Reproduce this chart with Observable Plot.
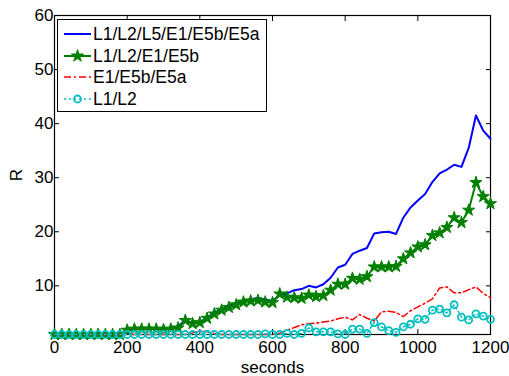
<!DOCTYPE html>
<html>
<head>
<meta charset="utf-8">
<script src="https://cdn.jsdelivr.net/npm/d3@7"></script>
<script src="https://cdn.jsdelivr.net/npm/@observablehq/plot@0.6"></script>
<style>
  html, body { margin: 0; padding: 0; background: #fff; }
  #wrap { position: relative; width: 509px; height: 376px; font-family: "Liberation Sans", Arial, sans-serif; }
  #legend { position: absolute; left: 57px; top: 19px; width: 210px; height: 93px; box-sizing: border-box;
    border: 1px solid #000; background: #fff; font-size: 17.5px; color: #000; }
  #legend .row { position: absolute; left: 4px; height: 20px; display: flex; align-items: center; }
  #legend svg { width: 30px; height: 16px; margin-right: 1px; }
</style>
</head>
<body>
<div id="wrap"></div>
<script>
const seconds = [0,20,40,60,80,100,120,140,160,180,200,220,240,260,280,300,320,340,360,380,400,420,440,460,480,500,520,540,560,580,600,620,640,660,680,700,720,740,760,780,800,820,840,860,880,900,920,940,960,980,1000,1020,1040,1060,1080,1100,1120,1140,1160,1180,1200];

const seriesNames = ["L1/L2/L5/E1/E5b/E5a", "L1/L2/E1/E5b", "E1/E5b/E5a", "L1/L2"];

const rAll = [1.0,1.0,1.0,1.0,1.0,1.0,1.0,1.0,1.0,1.0,
  1.8,2.0,2.0,2.0,2.2,2.0,2.0,2.5,3.7,3.1,
  3.3,4.1,5.0,5.7,6.3,6.8,7.3,7.5,7.8,7.5,
  7.2,8.3,8.6,9.2,9.4,10.0,9.7,10.3,11.5,13.4,
  13.9,15.9,16.5,17.0,19.7,19.9,20.0,19.6,22.6,24.5,
  25.8,27.0,29.2,30.8,31.5,32.4,32.0,35.5,41.5,38.7,37.2];

const rL1L2E1E5b = [1.0,1.0,1.0,1.0,1.0,1.0,1.0,1.0,1.0,1.0,
  1.8,2.0,2.0,2.0,2.0,1.9,2.0,2.2,3.6,3.0,
  3.2,4.0,4.8,5.5,6.0,6.5,7.0,7.2,7.3,7.0,
  6.9,8.5,7.9,7.8,7.7,8.3,8.0,8.2,9.2,10.3,
  10.3,11.4,11.2,11.7,13.5,13.5,13.5,13.6,15.0,16.1,
  17.2,17.6,19.3,19.8,20.8,22.6,21.7,24.0,29.1,26.5,25.2];

const rE1E5bE5a = [1.0,1.0,1.0,1.0,1.0,1.0,1.0,1.0,1.0,1.0,
  1.0,1.0,1.0,1.0,1.0,1.0,1.0,1.0,1.0,1.3,
  1.7,1.5,1.2,1.0,1.0,1.0,1.0,1.0,1.0,1.0,
  1.0,1.2,1.8,2.3,2.8,3.0,3.1,3.3,3.5,3.9,
  4.2,3.7,4.7,4.0,3.5,5.2,5.3,5.1,4.3,5.4,
  6.1,6.8,7.6,9.6,9.8,8.7,8.7,9.3,9.8,8.6,7.8];

const rL1L2 = [1.0,1.0,1.0,1.0,1.0,1.0,1.0,1.0,1.0,1.0,
  1.0,1.0,1.0,1.0,1.0,1.0,1.0,1.0,1.0,1.0,
  1.0,1.0,1.0,1.0,1.0,1.0,1.0,1.0,1.0,1.1,
  1.0,1.0,1.2,1.0,1.2,2.2,1.5,1.5,1.5,1.1,
  1.0,2.0,2.0,1.2,3.2,2.4,1.7,1.4,2.4,2.9,
  3.9,3.8,5.5,5.7,5.0,6.5,4.2,3.7,4.8,4.4,3.8];

const xTicks = [0,200,400,600,800,1000,1200];
const yTicks = [10,20,30,40,50,60];

const colors = ["#0000ff", "#008000", "#ff0000", "#00bfbf"];

const mk = (vals) => seconds.map((t, i) => ({t, r: vals[i]}));
const dAll = mk(rAll), dG = mk(rL1L2E1E5b), dR = mk(rE1E5bE5a), dC = mk(rL1L2);

const font = '"Liberation Sans", Arial, sans-serif';
const fmt = (d) => String(d);

const chart = Plot.plot({
  width: 509,
  height: 376,
  marginLeft: 54,
  marginRight: 19,
  marginTop: 15,
  marginBottom: 42,
  style: {fontFamily: font, fontSize: "17px", background: "#fff", color: "#000"},
  x: {domain: [0, 1200]},
  y: {domain: [1, 60]},
  marks: [
    Plot.frame({stroke: "#000", strokeWidth: 1.2}),
    Plot.axisX(xTicks, {anchor: "bottom", tickSize: -5, tickPadding: 11, tickFormat: fmt, label: "seconds", labelAnchor: "center", labelOffset: 38, labelArrow: "none", fontSize: 17}),
    Plot.axisX(xTicks, {anchor: "top", tickSize: -5, text: null, label: null}),
    Plot.axisY(yTicks, {anchor: "left", tickSize: -5, tickPadding: 6, tickFormat: fmt, label: "R", labelAnchor: "center", labelOffset: 45, labelArrow: "none", fontSize: 17}),
    Plot.axisY(yTicks, {anchor: "right", tickSize: -5, text: null, label: null}),
    Plot.line(dAll, {x: "t", y: "r", stroke: colors[0], strokeWidth: 2}),
    Plot.line(dG, {x: "t", y: "r", stroke: colors[1], strokeWidth: 2}),
    Plot.dot(dG, {x: "t", y: "r", symbol: "star", r: 3.8, fill: colors[1], stroke: colors[1], strokeWidth: 1}),
    Plot.line(dR, {x: "t", y: "r", stroke: colors[2], strokeWidth: 1.5, strokeDasharray: "7,3,2,3"}),
    Plot.line(dC, {x: "t", y: "r", stroke: colors[3], strokeWidth: 1.5, strokeDasharray: "2,3"}),
    Plot.dot(dC, {x: "t", y: "r", r: 3.5, stroke: colors[3], strokeWidth: 1.8, fill: "none"})
  ]
});

const wrap = document.getElementById("wrap");
wrap.appendChild(chart);

// Legend overlay
const legend = document.createElement("div");
legend.id = "legend";
const rowTops = [4, 26, 47, 69];
const sampleSvgs = [
  `<svg viewBox="0 0 30 16"><line x1="2" y1="8" x2="29" y2="8" stroke="${colors[0]}" stroke-width="2"/></svg>`,
  `<svg viewBox="0 0 30 16"><line x1="2" y1="8" x2="29" y2="8" stroke="${colors[1]}" stroke-width="2"/><path transform="translate(15.5,8)" d="${d3.symbol(d3.symbolStar, Math.PI*3.8*3.8)()}" fill="${colors[1]}" stroke="${colors[1]}"/></svg>`,
  `<svg viewBox="0 0 30 16"><line x1="2" y1="8" x2="29" y2="8" stroke="${colors[2]}" stroke-width="1.5" stroke-dasharray="7,3,2,3"/></svg>`,
  `<svg viewBox="0 0 30 16"><line x1="2" y1="8" x2="29" y2="8" stroke="${colors[3]}" stroke-width="1.5" stroke-dasharray="2,3"/><circle cx="15.5" cy="8" r="3.5" fill="none" stroke="${colors[3]}" stroke-width="1.8"/></svg>`
];
seriesNames.forEach((name, i) => {
  const row = document.createElement("div");
  row.className = "row";
  row.style.top = rowTops[i] + "px";
  row.innerHTML = sampleSvgs[i] + `<span>${name}</span>`;
  legend.appendChild(row);
});
wrap.appendChild(legend);
</script>
</body>
</html>
